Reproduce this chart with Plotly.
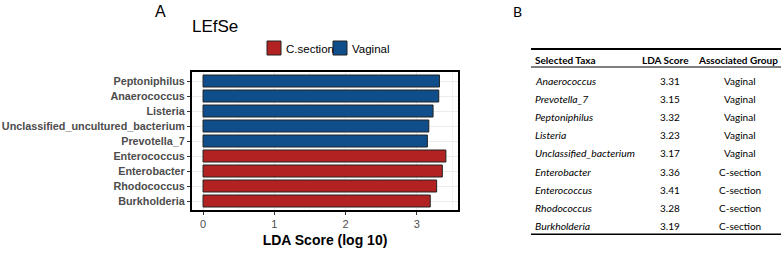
import plotly.graph_objects as go

# ---- Data: panel A (LEfSe bar chart) ----
taxa_order = ["Peptoniphilus", "Anaerococcus", "Listeria", "Unclassified_uncultured_bacterium",
              "Prevotella_7", "Enterococcus", "Enterobacter", "Rhodococcus", "Burkholderia"]
vaginal_taxa = ["Peptoniphilus", "Anaerococcus", "Listeria", "Unclassified_uncultured_bacterium", "Prevotella_7"]
vaginal_scores = [3.32, 3.31, 3.23, 3.17, 3.15]
csection_taxa = ["Enterococcus", "Enterobacter", "Rhodococcus", "Burkholderia"]
csection_scores = [3.41, 3.36, 3.28, 3.19]
x_ticks = [0, 1, 2, 3]

# ---- Data: panel B (table) ----
table_header = ["Selected Taxa", "LDA Score", "Associated Group"]
table_taxa = ["Anaerococcus", "Prevotella_7", "Peptoniphilus", "Listeria", "Unclassified_bacterium",
              "Enterobacter", "Enterococcus", "Rhodococcus", "Burkholderia"]
table_scores = ["3.31", "3.15", "3.32", "3.23", "3.17", "3.36", "3.41", "3.28", "3.19"]
table_groups = ["Vaginal", "Vaginal", "Vaginal", "Vaginal", "Vaginal",
                "C-section", "C-section", "C-section", "C-section"]

W, H = 782, 271
RED = "rgb(178,34,34)"
BLUE = "rgb(16,78,139)"
FONT = "Liberation Sans, Arial, sans-serif"
TFONT = "Lato, Open Sans, sans-serif"

fig = go.Figure()
fig.add_trace(go.Bar(y=csection_taxa, x=csection_scores, orientation="h", name="C.section",
                     marker=dict(color=RED, line=dict(color="#222222", width=1)), width=0.8,
                     showlegend=False))
fig.add_trace(go.Bar(y=vaginal_taxa, x=vaginal_scores, orientation="h", name="Vaginal",
                     marker=dict(color=BLUE, line=dict(color="#222222", width=1)), width=0.8,
                     showlegend=False))

def px_x(p):
    return p / W

def px_y(p):
    return 1 - p / H

fig.update_layout(
    width=W, height=H,
    margin=dict(l=0, r=0, t=0, b=0, autoexpand=False),
    paper_bgcolor="white", plot_bgcolor="white",
    barmode="overlay",
    xaxis=dict(domain=[px_x(192), px_x(458)], range=[-0.155, 3.58], automargin=False,
               tickvals=x_ticks, ticks="outside", ticklen=3, tickcolor="#333333",
               tickfont=dict(family=FONT, size=11, color="#4D4D4D"),
               showgrid=True, gridcolor="#EBEBEB", gridwidth=1,
               minor=dict(dtick=0.5, showgrid=True, gridcolor="#F4F4F4", gridwidth=0.6),
               showline=True, linecolor="black", linewidth=2, mirror=True, zeroline=False,
               title=dict(text="<b>LDA Score (log 10)</b>", font=dict(family=FONT, size=14, color="black"),
                          standoff=6)),
    yaxis=dict(domain=[px_y(210), px_y(72)], categoryorder="array", automargin=False,
               categoryarray=taxa_order[::-1],
               ticks="outside", ticklen=3, tickcolor="#333333",
               tickfont=dict(family=FONT, size=10.8, color="#4D4D4D", weight="bold"),
               showgrid=True, gridcolor="#EBEBEB", gridwidth=1,
               showline=True, linecolor="black", linewidth=2, mirror=True, zeroline=False,
               range=[-0.6, 8.6]),
)

anns = []

def ann(text, x, y, font, xanchor="center"):
    anns.append(dict(text=text, x=px_x(x), y=px_y(y), xref="paper", yref="paper",
                     xanchor=xanchor, yanchor="middle", showarrow=False, font=font))

# Panel labels and title
ann("A", 160, 12, dict(family=FONT, size=16, color="black"))
ann("LEfSe", 190, 26, dict(family=FONT, size=17, color="black"), "left")
ann("B", 517, 12, dict(family=TFONT, size=14, color="black"))

shapes = []
# Manual legend
legend_items = [("C.section", RED, 267), ("Vaginal", BLUE, 333)]
for name, col, x0 in legend_items:
    shapes.append(dict(type="rect", xref="paper", yref="paper",
                       x0=px_x(x0), x1=px_x(x0 + 14), y0=px_y(55), y1=px_y(41),
                       fillcolor=col, line=dict(color="#222222", width=1)))
    ann(name, x0 + 17, 48.5, dict(family=FONT, size=11.5, color="black"), "left")

# Table (row i centred at pixel 81 + 18.1*i)
col_taxa_x, col_score_x, col_group_x = 533, 670, 740
hf = dict(family=TFONT, size=10, color="black")
tf = dict(family=TFONT, size=10, color="black")
itf = dict(family=TFONT, size=10.4, color="black")
ann("<b>" + table_header[0] + "</b>", col_taxa_x, 60, hf, "left")
ann("<b>" + table_header[1] + "</b>", 665, 60, hf)
ann("<b>" + table_header[2] + "</b>", 738, 60, hf)
for i, (t, s, g) in enumerate(zip(table_taxa, table_scores, table_groups)):
    yy = 81 + 18.1 * i
    ann("<i>" + t + "</i>", col_taxa_x, yy, itf, "left")
    ann(s, col_score_x, yy, tf)
    ann(g, col_group_x, yy, tf)

n = len(table_taxa)
for ypx, w in [(49, 2), (67, 1), (81 + 18.1 * (n - 1) + 8.5, 1.5)]:
    shapes.append(dict(type="line", xref="paper", yref="paper", x0=px_x(531), x1=px_x(781),
                       y0=px_y(ypx), y1=px_y(ypx), line=dict(color="black", width=w)))

fig.update_layout(annotations=anns, shapes=shapes)
fig.write_html("out.html", config={"displayModeBar": False},
               post_script="document.body.style.margin='0';")
